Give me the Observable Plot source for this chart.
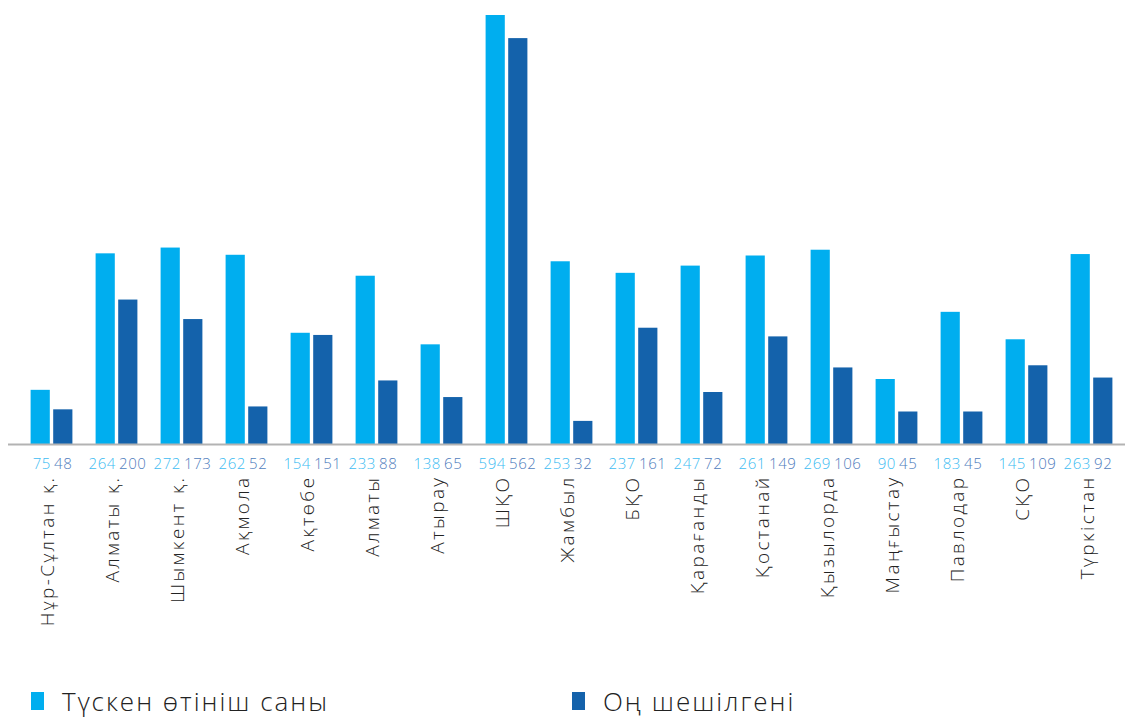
<!DOCTYPE html>
<html>
<head>
<meta charset="utf-8">
<script src="https://cdn.jsdelivr.net/npm/d3@7"></script>
<script src="https://cdn.jsdelivr.net/npm/@observablehq/plot@0.6"></script>
<style>
  body { margin: 0; background: #fff; font-family: "Open Sans", sans-serif; }
  #chart svg { display: block; }
  #chart svg g[aria-label="x-axis tick label"] text { letter-spacing: 2.4px; }
  #chart svg g.vals text { letter-spacing: 0.6px; }
  .legend { position: relative; height: 48px; font-weight: 300; font-size: 26px; color: #222; letter-spacing: 2px; }
  .legend .item { position: absolute; top: 13px; display: flex; align-items: center; }
  .legend .sw { width: 13px; height: 18px; margin-right: 18px; }
</style>
</head>
<body>
<div id="chart"></div>
<div class="legend">
  <div class="item" style="left:31px"><span class="sw" style="background:#00aeef"></span><span id="l1"></span></div>
  <div class="item" style="left:572px"><span class="sw" style="background:#1462ab"></span><span id="l2"></span></div>
</div>
<script>
const regions = ["Нұр-Сұлтан қ.", "Алматы қ.", "Шымкент қ.", "Ақмола", "Ақтөбе", "Алматы", "Атырау", "ШҚО", "Жамбыл", "БҚО", "Қарағанды", "Қостанай", "Қызылорда", "Маңғыстау", "Павлодар", "СҚО", "Түркістан"];
const received = [75, 264, 272, 262, 154, 233, 138, 594, 253, 237, 247, 261, 269, 90, 183, 145, 263];
const resolved = [48, 200, 173, 52, 151, 88, 65, 562, 32, 161, 72, 149, 106, 45, 45, 109, 92];
const seriesNames = ["Түскен өтініш саны", "Оң шешілгені"];

document.getElementById("l1").textContent = seriesNames[0];
document.getElementById("l2").textContent = seriesNames[1];

const rows = regions.map((r, i) => ({region: r, a: received[i], b: resolved[i]}));

const chart = Plot.plot({
  width: 1125,
  height: 670,
  marginLeft: 8,
  marginRight: 0,
  marginTop: 15,
  marginBottom: 226,
  style: {fontFamily: "'Open Sans', sans-serif", background: "#fff"},
  x: {domain: regions, range: [17.4, 1125], padding: 0, axis: null},
  y: {domain: [0, 594], axis: null},
  marks: [
    Plot.barY(rows, {x: "region", y: "a", fill: "#00aeef", insetLeft: 11.6, insetRight: 34.2}),
    Plot.barY(rows, {x: "region", y: "b", fill: "#1462ab", insetLeft: 34.2, insetRight: 11.6}),
    Plot.ruleY([0], {stroke: "#b3b3b3", strokeWidth: 2}),
    Plot.text(rows, {x: "region", y: 0, text: "a", dx: -1, dy: 20, textAnchor: "end", fill: "#3dbcf2", fontSize: 15, fontWeight: 300, className: "vals"}),
    Plot.text(rows, {x: "region", y: 0, text: "b", dx: 2, dy: 20, textAnchor: "start", fill: "#4f7dbd", fontSize: 15, fontWeight: 300, className: "vals"}),
    Plot.axisX({domain: regions, tickSize: 0, tickPadding: 31, dx: -4, tickRotate: -90, fontSize: 19, fontWeight: 300, fill: "#222", label: null})
  ]
});
document.getElementById("chart").appendChild(chart);
</script>
</body>
</html>
